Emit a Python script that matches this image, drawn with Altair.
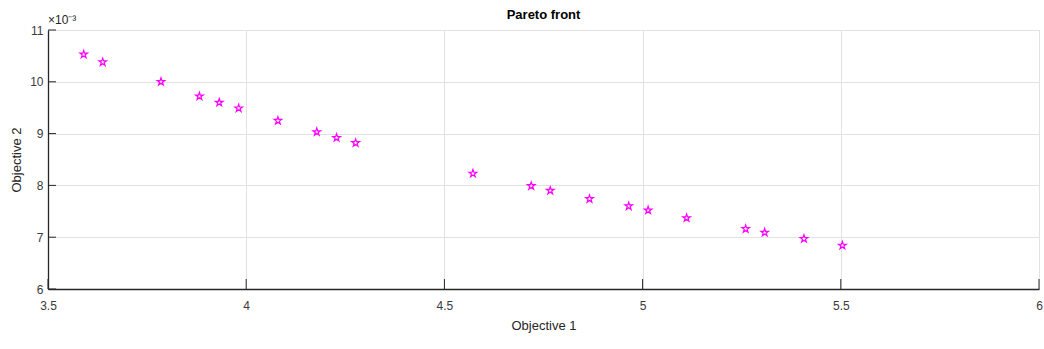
import altair as alt
import pandas as pd

# ---- data ----
obj1 = [3.590, 3.638, 3.785, 3.882, 3.932, 3.981, 4.080, 4.178, 4.228, 4.276,
        4.572, 4.719, 4.767, 4.866, 4.965, 5.014, 5.111, 5.260, 5.308, 5.407, 5.504]
obj2 = [0.01053, 0.01038, 0.01000, 0.00972, 0.00960, 0.00949, 0.00925, 0.00903,
        0.00892, 0.00882, 0.00823, 0.00799, 0.00790, 0.00774, 0.00760, 0.00752,
        0.00737, 0.00716, 0.00709, 0.00697, 0.00684]
x_ticks = [3.5, 4, 4.5, 5, 5.5, 6]
y_ticks = [0.006, 0.007, 0.008, 0.009, 0.010, 0.011]
title_text = ["Pareto front"]
x_title = "Objective 1"
y_title = "Objective 2"
exponent_text = ["×10⁻³"]

W, H = 991, 259
FONT = "Liberation Sans"
INK = "#262626"

df = pd.DataFrame({"obj1": obj1, "obj2": obj2})
xt_df = pd.DataFrame({"v": x_ticks})
yt_df = pd.DataFrame({"v": y_ticks})
exp_df = pd.DataFrame({"t": exponent_text})
title_df = pd.DataFrame({"t": title_text})

star = ("M0,-1L0.2245,-0.309L0.951,-0.309L0.363,0.118L0.588,0.809L0,0.382"
        "L-0.588,0.809L-0.363,0.118L-0.951,-0.309L-0.2245,-0.309Z")

xs = alt.Scale(domain=[3.5, 6], nice=False, zero=False)
ys = alt.Scale(domain=[0.006, 0.011], nice=False, zero=False)

x_axis = alt.Axis(values=x_ticks, title=x_title, labelPadding=11, titlePadding=8,
                  labelFlush=False, labelExpr="format(datum.value, '.1~f')")
y_axis = alt.Axis(values=y_ticks, title=y_title, labelPadding=5, titlePadding=6,
                  labelFlush=False,
                  labelExpr="format(round(datum.value*1000), 'd')")

points = alt.Chart(df).mark_point(
    shape=star, size=64, filled=False, stroke="#ff00ff", strokeWidth=1.2, opacity=1
).encode(
    x=alt.X("obj1:Q", scale=xs, axis=x_axis),
    y=alt.Y("obj2:Q", scale=ys, axis=y_axis),
)

x_tick_marks = alt.Chart(xt_df).mark_rule(color=INK, strokeWidth=1).encode(
    x=alt.X("v:Q", scale=xs, axis=x_axis),
    y=alt.value(H),
    y2=alt.value(H - 10),
)

y_tick_marks = alt.Chart(yt_df).mark_rule(color=INK, strokeWidth=1).encode(
    y=alt.Y("v:Q", scale=ys, axis=y_axis),
    x=alt.value(0),
    x2=alt.value(8),
)

exponent = alt.Chart(exp_df).mark_text(
    align="left", baseline="bottom", font=FONT, fontSize=12, color=INK
).encode(
    x=alt.value(0),
    y=alt.value(-3),
    text="t:N",
)

title = alt.Chart(title_df).mark_text(
    align="center", baseline="middle", font=FONT, fontSize=13,
    fontWeight="bold", color="#000000"
).encode(
    x=alt.value(W / 2),
    y=alt.value(-15),
    text="t:N",
)

chart = alt.layer(points, x_tick_marks, y_tick_marks, exponent, title).properties(
    width=W,
    height=H,
    autosize="none",
    padding={"left": 48, "top": 30, "right": 5, "bottom": 60},
).configure_view(
    stroke="#dcdcdc", strokeWidth=1
).configure_axis(
    domainColor=INK, domainWidth=1.3, tickSize=0, grid=True,
    gridColor="#e2e2e2", gridWidth=1, labelFont=FONT, labelFontSize=12,
    labelColor="#3a3a3a", titleFont=FONT, titleFontSize=13,
    titleFontWeight="normal", titleColor=INK,
)

chart.save("out.html", embed_options={"renderer": "svg", "actions": False})
